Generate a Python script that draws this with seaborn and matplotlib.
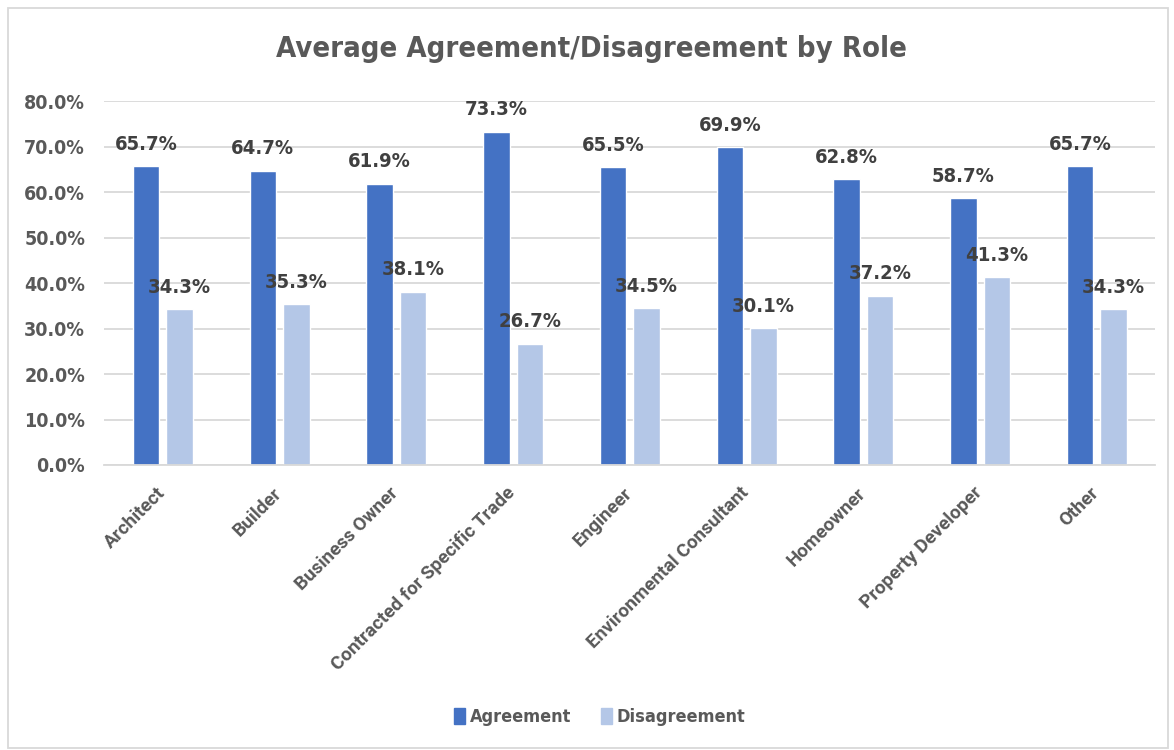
import matplotlib
matplotlib.use("Agg")
import matplotlib.pyplot as plt
from matplotlib.patches import Rectangle
from matplotlib.ticker import FuncFormatter, MultipleLocator
from matplotlib.transforms import ScaledTranslation
import pandas as pd
import seaborn as sns

roles = ["Architect", "Builder", "Business Owner", "Contracted for Specific Trade",
         "Engineer", "Environmental Consultant", "Homeowner", "Property Developer", "Other"]
agreement = [65.7, 64.7, 61.9, 73.3, 65.5, 69.9, 62.8, 58.7, 65.7]
disagreement = [34.3, 35.3, 38.1, 26.7, 34.5, 30.1, 37.2, 41.3, 34.3]
series_names = ["Agreement", "Disagreement"]
series_colors = ["#4472C4", "#B4C7E7"]

df = pd.DataFrame({
    "Role": roles * 2,
    "Series": [series_names[0]] * len(roles) + [series_names[1]] * len(roles),
    "Share": [v / 100 for v in agreement] + [v / 100 for v in disagreement],
})

sns.set_theme(style="white")
plt.rcParams["font.family"] = ["DejaVu Sans"]
plt.rcParams["font.stretch"] = "condensed"

fig = plt.figure(figsize=(11.74, 7.5), dpi=100)
ax = fig.add_axes([0.089, 0.38, 0.895, 0.485])

sns.barplot(data=df, x="Role", y="Share", hue="Series", palette=series_colors,
            width=0.575, gap=0.21, ax=ax, legend=True, saturation=1)

ax.set_ylim(0, 0.8)
ax.yaxis.set_major_locator(MultipleLocator(0.1))
ax.yaxis.set_major_formatter(FuncFormatter(lambda v, _: f"{v * 100:.1f}%"))
ax.grid(axis="y", color="#D9D9D9", linewidth=1.3)
ax.set_axisbelow(True)
for side in ["left", "right", "top"]:
    ax.spines[side].set_visible(False)
ax.spines["bottom"].set_color("#D9D9D9")
ax.spines["bottom"].set_linewidth(1.3)
ax.set_xlabel("")
ax.set_ylabel("")
ax.tick_params(axis="both", length=0)

for lbl in ax.get_yticklabels():
    lbl.set_fontsize(14)
    lbl.set_fontweight("bold")
    lbl.set_color("#595959")
ax.tick_params(axis="y", pad=14)

ax.set_xticks(range(len(roles)))
ax.set_xticklabels(roles, rotation=45, ha="right", rotation_mode="anchor",
                   fontsize=13.6, fontweight="bold", color="#595959",
                   family=["Roboto", "DejaVu Sans"], fontstretch="normal")
ax.tick_params(axis="x", pad=10)
shift = ScaledTranslation(-7 / 100, -5 / 100, fig.dpi_scale_trans)
for lbl in ax.get_xticklabels():
    lbl.set_transform(lbl.get_transform() + shift)

# value labels above each bar
for container in ax.containers:
    ax.bar_label(container, labels=[f"{b.get_height() * 100:.1f}%" for b in container],
                 padding=9, fontsize=14.5, fontweight="bold", color="#404040")

ax.legend_.remove()
handles = [Rectangle((0, 0), 1, 1, color=c) for c in series_colors]
fig.legend(handles, series_names, loc="center", bbox_to_anchor=(0.511, 0.044), ncol=2,
           frameon=False, handlelength=0.6, handleheight=1.0, handletextpad=0.3,
           columnspacing=1.6, prop={"size": 13, "weight": "bold", "stretch": "condensed"},
           labelcolor="#595959")

fig.text(0.504, 0.935, "Average Agreement/Disagreement by Role", ha="center", va="center",
         fontsize=21, fontweight="bold", color="#595959")

# chart area border
fig.patches.append(Rectangle((0.007, 0.003), 0.988, 0.986, transform=fig.transFigure,
                             fill=False, edgecolor="#D9D9D9", linewidth=1.3))

fig.savefig("out.png", dpi=100)
